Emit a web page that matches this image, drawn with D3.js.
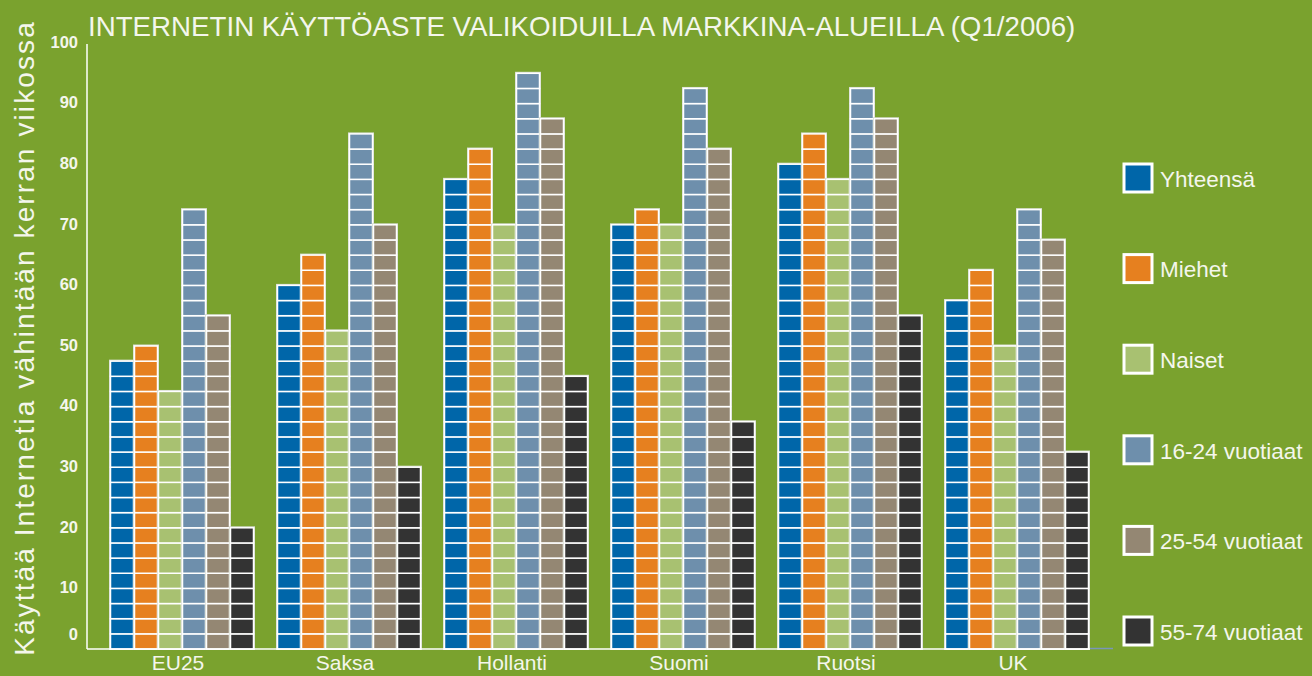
<!DOCTYPE html>
<html>
<head>
<meta charset="utf-8">
<script src="https://cdn.jsdelivr.net/npm/d3@7"></script>
<style>
  html, body { margin: 0; padding: 0; background: #7aa22e; }
  svg { display: block; }
  text { font-family: "Liberation Sans", "DejaVu Sans", sans-serif; }
</style>
</head>
<body>
<svg id="chart" width="1312" height="676"></svg>
<script>
// data
var countries = ["EU25", "Saksa", "Hollanti", "Suomi", "Ruotsi", "UK"];
var seriesNames = ["Yhteensä", "Miehet", "Naiset", "16-24 vuotiaat", "25-54 vuotiaat", "55-74 vuotiaat"];
var seriesColors = ["#0066a9", "#e6801f", "#a8c171", "#6e8fac", "#948773", "#333333"];

var yhteensa = [47.5, 60, 77.5, 70, 80, 57.5];
var miehet   = [50, 65, 82.5, 72.5, 85, 62.5];
var naiset   = [42.5, 52.5, 70, 70, 77.5, 50];
var age1624  = [72.5, 85, 95, 92.5, 92.5, 72.5];
var age2554  = [55, 70, 87.5, 82.5, 87.5, 67.5];
var age5574  = [20, 30, 45, 37.5, 55, 32.5];
var seriesValues = [yhteensa, miehet, naiset, age1624, age2554, age5574];

var yTicks = [0, 10, 20, 30, 40, 50, 60, 70, 80, 90, 100];
var cellSize = 2.5;

var title = "INTERNETIN KÄYTTÖASTE VALIKOIDUILLA MARKKINA-ALUEILLA (Q1/2006)";
var yTitle = "Käyttää Internetia vähintään kerran viikossa";

var svg = d3.select("#chart");
var textColor = "#f4f6ec";

var y = d3.scaleLinear().domain([0, 100]).range([649, 43]);

var x0 = d3.scaleBand()
    .domain(countries)
    .range([110, 1089])
    .paddingInner(23 / 167)
    .paddingOuter(0);

var x1 = d3.scaleBand()
    .domain(seriesNames)
    .range([0, x0.bandwidth()]);

var color = d3.scaleOrdinal().domain(seriesNames).range(seriesColors);

// title
svg.append("text")
    .attr("x", 88)
    .attr("y", 36)
    .attr("fill", textColor)
    .style("font-size", "27.7px")
    .text(title);

// y axis title
svg.append("text")
    .attr("transform", "translate(34,338) rotate(-90)")
    .attr("text-anchor", "middle")
    .attr("fill", textColor)
    .style("font-size", "28px")
    .style("letter-spacing", "2.1px")
    .text(yTitle);

// y tick labels
svg.append("g").selectAll("text")
    .data(yTicks)
    .join("text")
    .attr("x", 78)
    .attr("y", function(d) { return d === 0 ? 634 : y(d) - 1; })
    .attr("dy", "0.35em")
    .attr("text-anchor", "end")
    .attr("fill", textColor)
    .style("font-size", "16.5px")
    .style("font-weight", "bold")
    .text(function(d) { return d; });

// bars made of cells
var rows = [];
countries.forEach(function(c, i) {
    seriesNames.forEach(function(s, j) {
        rows.push({ country: c, series: s, value: seriesValues[j][i] });
    });
});

var bars = svg.append("g").selectAll("g")
    .data(rows)
    .join("g")
    .attr("transform", function(d) { return "translate(" + (x0(d.country) + x1(d.series)) + ",0)"; });

bars.append("rect")
    .attr("x", 0)
    .attr("y", function(d) { return y(d.value) - 0.5; })
    .attr("width", x1.bandwidth())
    .attr("height", function(d) { return y(0) - y(d.value) + 0.5; })
    .attr("fill", "none")
    .attr("stroke", "#d6dcd0")
    .attr("stroke-width", 2);

bars.selectAll("rect.cell")
    .data(function(d) {
        return d3.range(0, d.value, cellSize).map(function(v) {
            return { series: d.series, from: v, to: Math.min(v + cellSize, d.value) };
        });
    })
    .join("rect")
    .attr("class", "cell")
    .attr("x", 0.5)
    .attr("y", function(d) { return y(d.to); })
    .attr("width", x1.bandwidth() - 1)
    .attr("height", function(d) { return y(d.from) - y(d.to); })
    .attr("fill", function(d) { return color(d.series); })
    .attr("stroke", "#ffffff")
    .attr("stroke-width", 1.5);

// axes lines
svg.append("line")
    .attr("x1", 87).attr("x2", 87)
    .attr("y1", 44).attr("y2", 649)
    .attr("stroke", "#ffffff").attr("stroke-width", 1.5);

svg.append("line")
    .attr("x1", 87).attr("x2", 1090)
    .attr("y1", 649).attr("y2", 649)
    .attr("stroke", "#ffffff").attr("stroke-width", 1.5);

svg.append("line")
    .attr("x1", 1090).attr("x2", 1113)
    .attr("y1", 648.5).attr("y2", 648.5)
    .attr("stroke", "#7a96b8").attr("stroke-width", 1.5);

// x labels
svg.append("g").selectAll("text")
    .data(countries)
    .join("text")
    .attr("x", function(d) { return x0(d) + x0.bandwidth() / 2 - 4; })
    .attr("y", 670)
    .attr("text-anchor", "middle")
    .attr("fill", textColor)
    .style("font-size", "21px")
    .text(function(d) { return d; });

// legend
var legend = svg.append("g").selectAll("g")
    .data(seriesNames)
    .join("g")
    .attr("transform", function(d, i) { return "translate(1124," + (178 + i * 90.6) + ")"; });

legend.append("rect")
    .attr("x", 0)
    .attr("y", -14)
    .attr("width", 28)
    .attr("height", 28)
    .attr("fill", function(d) { return color(d); })
    .attr("stroke", "#ffffff")
    .attr("stroke-width", 3);

legend.append("text")
    .attr("x", 36)
    .attr("y", 1)
    .attr("dy", "0.35em")
    .attr("fill", textColor)
    .style("font-size", "22.5px")
    .text(function(d) { return d; });
</script>
</body>
</html>
